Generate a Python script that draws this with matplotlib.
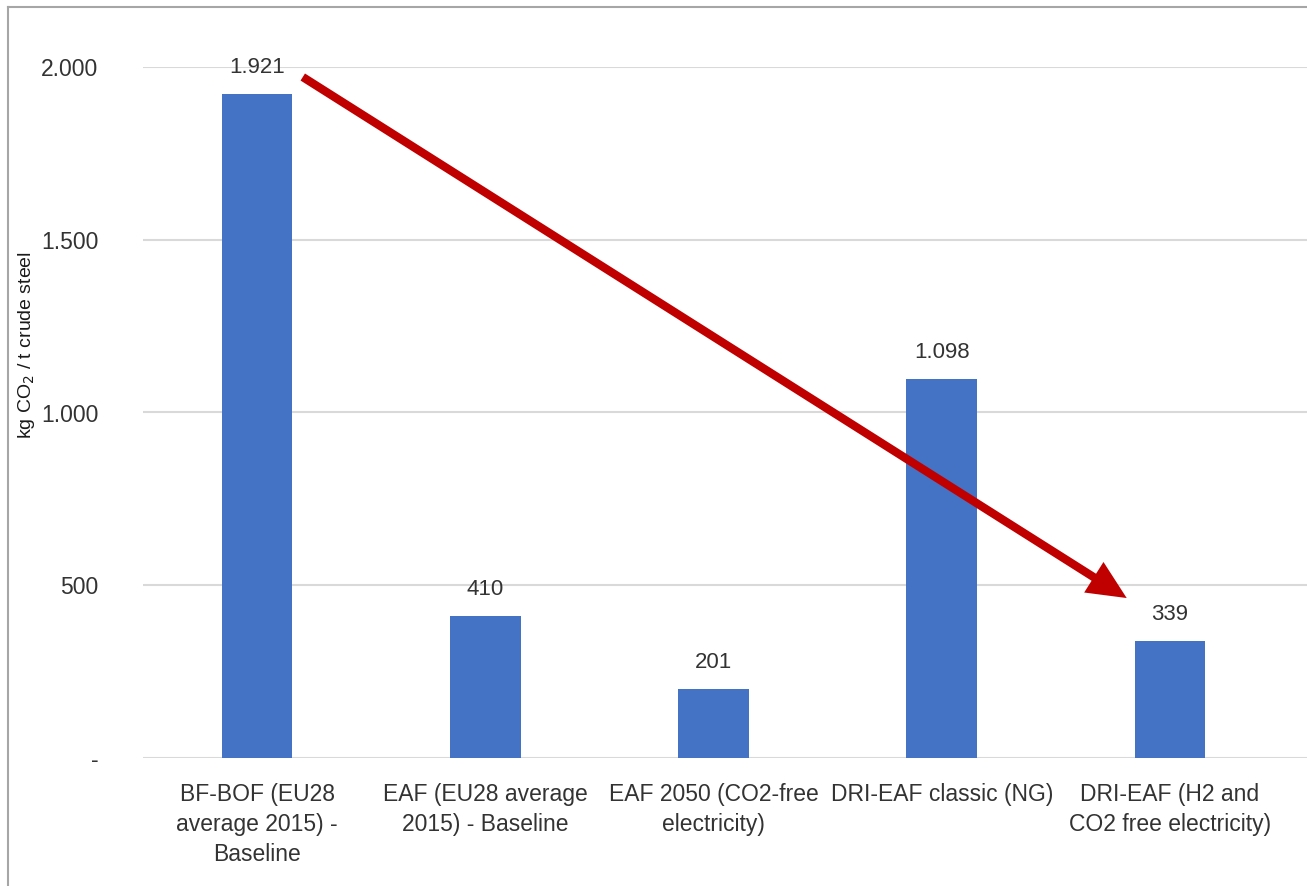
import matplotlib
matplotlib.use("Agg")
import matplotlib.pyplot as plt
from matplotlib.ticker import FixedLocator, FuncFormatter

# --- dados ---
categories = [
    "BF-BOF (EU28\naverage 2015) -\nBaseline",
    "EAF (EU28 average\n2015) - Baseline",
    "EAF 2050 (CO2-free\nelectricity)",
    "DRI-EAF classic (NG)",
    "DRI-EAF (H2 and\nCO2 free electricity)",
]
values = [1921, 410, 201, 1098, 339]
yticks = [0, 500, 1000, 1500, 2000]

BAR_COLOR = "#4472C4"
TEXT_COLOR = "#333333"
GRID_COLOR = "#D9D9D9"
ARROW_COLOR = "#C00000"

plt.rcParams["font.family"] = ["Liberation Sans", "DejaVu Sans"]


def fmt_thousands(v, pos):
    # separador de milhar com ponto, zero como traço
    if v == 0:
        return "-"
    return f"{int(v):,}".replace(",", ".")


fig = plt.figure(figsize=(13.07, 8.86), dpi=100)
ax = fig.add_axes([143 / 1307, 1 - 758 / 886, 1 - 143 / 1307, (758 - 67) / 886])

x = list(range(len(values)))
ax.bar(x, values, width=0.31, color=BAR_COLOR, zorder=3)

ax.set_xlim(-0.5, 4.6)
ax.set_ylim(0, 2000)
ax.yaxis.set_major_locator(FixedLocator(yticks))
ax.yaxis.set_major_formatter(FuncFormatter(fmt_thousands))
ax.grid(axis="y", color=GRID_COLOR, linewidth=1.5, zorder=0)
ax.set_axisbelow(True)
for s in ax.spines.values():
    s.set_visible(False)
ax.tick_params(axis="y", length=0, pad=32, labelsize=16.5, labelcolor=TEXT_COLOR)
ax.tick_params(axis="x", length=0, pad=18, labelcolor=TEXT_COLOR)
ax.set_xticks(x)
ax.set_xticklabels(categories, fontsize=16.5, linespacing=1.4, va="top")

# rótulos de valor
for xi, v in zip(x, values):
    ax.annotate(fmt_thousands(v, None), (xi, v), xytext=(0, 19), textcoords="offset points",
                ha="center", va="center", fontsize=16, color=TEXT_COLOR, clip_on=False)

# título do eixo y
fig.text(27 / 1307, 1 - 345 / 886, "kg CO$_2$ / t crude steel", rotation=90,
         ha="center", va="center", fontsize=14, color="#1a1a1a")

# seta de redução
start = (x[0] + 0.2, values[0] + 50)
end = (x[-1] - 0.19, values[-1] + 124)
ax.annotate("", xy=end, xytext=start,
            arrowprops=dict(arrowstyle="simple,tail_width=0.6,head_width=2.6,head_length=2.8",
                            mutation_scale=10, color=ARROW_COLOR, lw=0, shrinkA=0, shrinkB=0),
            zorder=5, annotation_clip=False)

# moldura (só topo e lado esquerdo visíveis)
fig.add_artist(plt.Line2D([8 / 1307, 1.0], [1 - 7 / 886, 1 - 7 / 886], color="#A6A6A6", lw=1.5))
fig.add_artist(plt.Line2D([8 / 1307, 8 / 1307], [0.0, 1 - 7 / 886], color="#A6A6A6", lw=1.5))

fig.savefig("out.png", dpi=100, facecolor="white")
